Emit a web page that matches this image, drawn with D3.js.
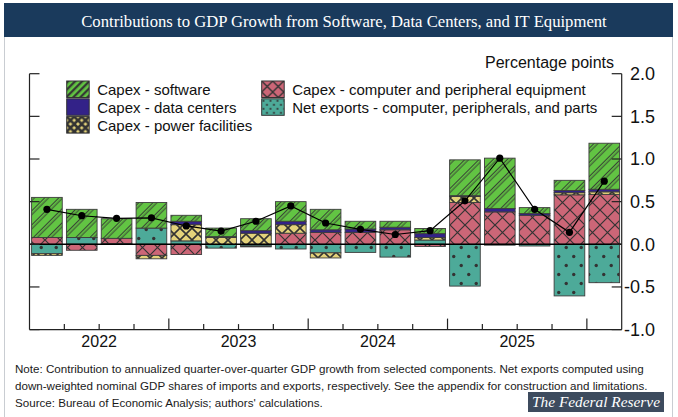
<!DOCTYPE html>
<html>
<head>
<meta charset="utf-8">
<script src="https://cdn.jsdelivr.net/npm/d3@7"></script>
<style>
  html, body { margin: 0; padding: 0; background: #fff; }
  svg { display: block; }
  text { font-family: "Liberation Sans", Arial, sans-serif; fill: #111; }
</style>
</head>
<body>
<svg id="chart" width="678" height="417"></svg>
<script>
// Quarterly contributions, percentage points
const quarters = ["2022Q1","2022Q2","2022Q3","2022Q4","2023Q1","2023Q2","2023Q3","2023Q4",
                  "2024Q1","2024Q2","2024Q3","2024Q4","2025Q1","2025Q2","2025Q3","2025Q4","2026Q1"];
const software    = [0.47, 0.33, 0.23, 0.30, 0.07, 0.10, 0.14, 0.23, 0.24, 0.09, 0.07, 0.06, 0.42, 0.59, 0.07, 0.12, 0.54];
const dataCenters = [0.00, 0.00, 0.00, 0.00, 0.04, 0.01, 0.03, 0.04, 0.03, 0.04, 0.03, 0.045, 0.01, 0.04, 0.02, 0.025, 0.03];
const power       = [-0.02, 0.00, 0.00, -0.04, 0.19, 0.08, 0.13, 0.10, -0.06, 0.00, 0.00, 0.03, 0.07, 0.00, 0.00, 0.025, 0.03];
const computer    = [0.08, -0.07, 0.06, -0.13, -0.12, 0.00, -0.01, 0.13, 0.14, 0.14, 0.17, -0.025, 0.49, 0.38, 0.34, 0.58, 0.585];
const netExports  = [-0.11, 0.08, 0.01, 0.19, 0.04, -0.045, -0.02, -0.055, -0.10, -0.095, -0.15, 0.05, -0.49, -0.01, -0.02, -0.605, -0.45];
const total       = [0.41, 0.335, 0.305, 0.31, 0.215, 0.155, 0.27, 0.45, 0.25, 0.175, 0.115, 0.16, 0.51, 1.01, 0.41, 0.14, 0.74];

const yTicks = [2.0, 1.5, 1.0, 0.5, 0.0, -0.5, -1.0];
const yearLabels = ["2022", "2023", "2024", "2025"];

const seriesNames = {
  netExports: "Net exports - computer, peripherals, and parts",
  computer: "Capex - computer and peripheral equipment",
  power: "Capex - power facilities",
  dataCenters: "Capex - data centers",
  software: "Capex - software"
};
// stacking order, closest to zero first
const stackKeys = ["netExports", "computer", "power", "dataCenters", "software"];

const svg = d3.select("#chart");
const defs = svg.append("defs");
const ink = "#333";

// ---- fill patterns ----
function hatch(id, size, bg, lines, sw) {
  const p = defs.append("pattern").attr("id", id)
    .attr("patternUnits", "userSpaceOnUse")
    .attr("width", size).attr("height", size)
    .attr("patternTransform", "rotate(45)");
  p.append("rect").attr("width", size).attr("height", size).attr("fill", bg);
  lines.forEach(x => p.append("line")
    .attr("x1", x).attr("x2", x).attr("y1", 0).attr("y2", size)
    .attr("stroke", ink).attr("stroke-width", sw));
}
function cross(id, size, bg, sw) {
  const p = defs.append("pattern").attr("id", id)
    .attr("patternUnits", "userSpaceOnUse")
    .attr("width", size).attr("height", size);
  p.append("rect").attr("width", size).attr("height", size).attr("fill", bg);
  p.append("path").attr("d", `M0,0L${size},${size}M${size},0L0,${size}`)
    .attr("stroke", ink).attr("stroke-width", sw).attr("fill", "none");
}
function dots(id, w, h, bg, r) {
  const p = defs.append("pattern").attr("id", id)
    .attr("patternUnits", "userSpaceOnUse")
    .attr("width", w).attr("height", h);
  p.append("rect").attr("width", w).attr("height", h).attr("fill", bg);
  p.append("circle").attr("cx", w / 4).attr("cy", h / 4).attr("r", r).attr("fill", ink);
  p.append("circle").attr("cx", 3 * w / 4).attr("cy", 3 * h / 4).attr("r", r).attr("fill", ink);
}

const green = "#62c443", navy = "#332288", sand = "#e3d27a", rose = "#cc6677", teal = "#4daa99";

hatch("p-soft", 10, green, [1.5, 4.2], 0.9);
cross("p-power", 12, sand, 1.6);
cross("p-comp", 15, rose, 1.2);
dots("p-net", 15, 18, teal, 1.7);
// denser versions for the legend swatches
hatch("l-soft", 5, green, [1.2], 2.2);
cross("l-power", 7.5, sand, 2.6);
cross("l-comp", 11, rose, 1.4);
dots("l-net", 7, 8, teal, 1.1);

const fills = { software: "url(#p-soft)", dataCenters: navy, power: "url(#p-power)",
                computer: "url(#p-comp)", netExports: "url(#p-net)" };
const legendFills = { software: "url(#l-soft)", dataCenters: navy, power: "url(#l-power)",
                      computer: "url(#l-comp)", netExports: "url(#l-net)" };

// ---- frame and title ----
svg.append("rect").attr("x", 4.5).attr("y", 3.5).attr("width", 668).attr("height", 420)
  .attr("fill", "#fff").attr("stroke", "#c9cdd2");
svg.append("rect").attr("x", 4).attr("y", 3).attr("width", 669).attr("height", 34)
  .attr("fill", "#1a3a5c");

function fitText(sel, width) {
  const fs = parseFloat(sel.style("font-size"));
  const w = sel.node().getComputedTextLength();
  sel.style("font-size", (fs * width / w).toFixed(2) + "px");
}

const title = svg.append("text")
  .attr("x", 344).attr("y", 26.5).attr("text-anchor", "middle")
  .style("font-family", "'Liberation Serif', 'DejaVu Serif', serif")
  .style("font-size", "16px").style("fill", "#fff")
  .text("Contributions to GDP Growth from Software, Data Centers, and IT Equipment");
fitText(title, 526);

// ---- scales ----
const x = d3.scaleBand().domain(quarters).range([29.5, 621.7])
  .paddingInner(0.12).paddingOuter(0.06);
const y = d3.scaleLinear().domain([-1, 2]).range([329.6, 73.7]);
const step = x.step();
const left = 29.5, right = 621.7;
const edge = i => left + i * step; // quarter boundaries

// ---- bars ----
const rows = quarters.map((q, i) => ({
  q, software: software[i], dataCenters: dataCenters[i], power: power[i],
  computer: computer[i], netExports: netExports[i]
}));
const stacked = d3.stack().keys(stackKeys).offset(d3.stackOffsetDiverging)(rows);

svg.append("g").selectAll("g").data(stacked).join("g")
  .attr("fill", d => fills[d.key])
  .selectAll("rect").data(d => d.filter(s => Math.abs(s[1] - s[0]) > 1e-9)).join("rect")
  .attr("x", d => x(d.data.q))
  .attr("width", x.bandwidth())
  .attr("y", d => y(Math.max(d[0], d[1])))
  .attr("height", d => Math.abs(y(d[0]) - y(d[1])))
  .attr("stroke", "#3c3c3c").attr("stroke-width", 0.9);

// zero line
svg.append("line").attr("x1", left).attr("x2", right)
  .attr("y1", y(0)).attr("y2", y(0)).attr("stroke", "#000").attr("stroke-width", 1.4);

// ---- axes ----
const axis = svg.append("g").attr("stroke", "#222").attr("stroke-width", 1.2);
axis.append("line").attr("x1", left).attr("x2", left).attr("y1", y(2)).attr("y2", y(-1));
axis.append("line").attr("x1", right).attr("x2", right).attr("y1", y(2)).attr("y2", y(-1));
axis.append("line").attr("x1", left).attr("x2", right).attr("y1", y(-1)).attr("y2", y(-1));
axis.selectAll(".tl").data(yTicks).join("line")
  .attr("x1", left).attr("x2", left + 10).attr("y1", d => y(d)).attr("y2", d => y(d));
axis.selectAll(".tr").data(yTicks).join("line")
  .attr("x1", right - 10).attr("x2", right).attr("y1", d => y(d)).attr("y2", d => y(d));
axis.selectAll(".tx").data(d3.range(1, quarters.length)).join("line")
  .attr("x1", edge).attr("x2", edge)
  .attr("y1", y(-1)).attr("y2", i => y(-1) - (i % 4 === 0 ? 11 : 5.5));

svg.selectAll(".ylab").data(yTicks).join("text")
  .attr("x", 655).attr("y", d => y(d)).attr("dy", "0.36em")
  .attr("text-anchor", "end").style("font-size", "18px")
  .text(d => d.toFixed(1));

svg.selectAll(".xlab").data(yearLabels).join("text")
  .attr("x", d => (x(d + "Q1") + x(d + "Q4") + x.bandwidth()) / 2)
  .attr("y", 347).attr("text-anchor", "middle").style("font-size", "16px")
  .text(d => d);

svg.append("text").attr("x", 614).attr("y", 68).attr("text-anchor", "end")
  .style("font-size", "16px").text("Percentage points");

// ---- total line ----
const line = d3.line().x((d, i) => x(quarters[i]) + x.bandwidth() / 2).y(d => y(d));
svg.append("path").datum(total).attr("d", line)
  .attr("fill", "none").attr("stroke", "#000").attr("stroke-width", 1.2);
svg.selectAll(".dot").data(total).join("circle")
  .attr("cx", (d, i) => x(quarters[i]) + x.bandwidth() / 2).attr("cy", d => y(d))
  .attr("r", 3.6).attr("fill", "#000");

// ---- legend ----
const legendItems = [
  { key: "software", col: 0, row: 0 },
  { key: "dataCenters", col: 0, row: 1 },
  { key: "power", col: 0, row: 2 },
  { key: "computer", col: 1, row: 0 },
  { key: "netExports", col: 1, row: 1 }
];
const lg = svg.append("g").selectAll("g").data(legendItems).join("g")
  .attr("transform", d => `translate(${d.col ? 261.7 : 66.7},${81 + d.row * 17.8})`);
lg.append("rect").attr("width", 22.5).attr("height", 16.5)
  .attr("fill", d => legendFills[d.key]).attr("stroke", "#333").attr("stroke-width", 1);
lg.append("text").attr("x", 30.5).attr("y", 14).style("font-size", "15px")
  .text(d => seriesNames[d.key]);

// ---- notes ----
const notes = [
  "Note: Contribution to annualized quarter-over-quarter GDP growth from selected components. Net exports computed using",
  "down-weighted nominal GDP shares of imports and exports, respectively. See the appendix for construction and limitations.",
  "Source: Bureau of Economic Analysis; authors' calculations."
];
const noteSel = svg.selectAll(".note").data(notes).join("text")
  .attr("x", 15).attr("y", (d, i) => 373 + i * 17).style("font-size", "12px")
  .style("fill", "#1a1a1a").text(d => d);
fitText(d3.select(noteSel.nodes()[0]), 629);
const nfs = d3.select(noteSel.nodes()[0]).style("font-size");
noteSel.style("font-size", nfs);

// ---- badge ----
svg.append("rect").attr("x", 528).attr("y", 392).attr("width", 136).attr("height", 20)
  .attr("fill", "#3d4b5e");
const badge = svg.append("text").attr("x", 596).attr("y", 407).attr("text-anchor", "middle")
  .style("font-family", "'Liberation Serif', 'DejaVu Serif', serif")
  .style("font-style", "italic").style("font-size", "15px").style("fill", "#fff")
  .text("The Federal Reserve");
fitText(badge, 128);
</script>
</body>
</html>
